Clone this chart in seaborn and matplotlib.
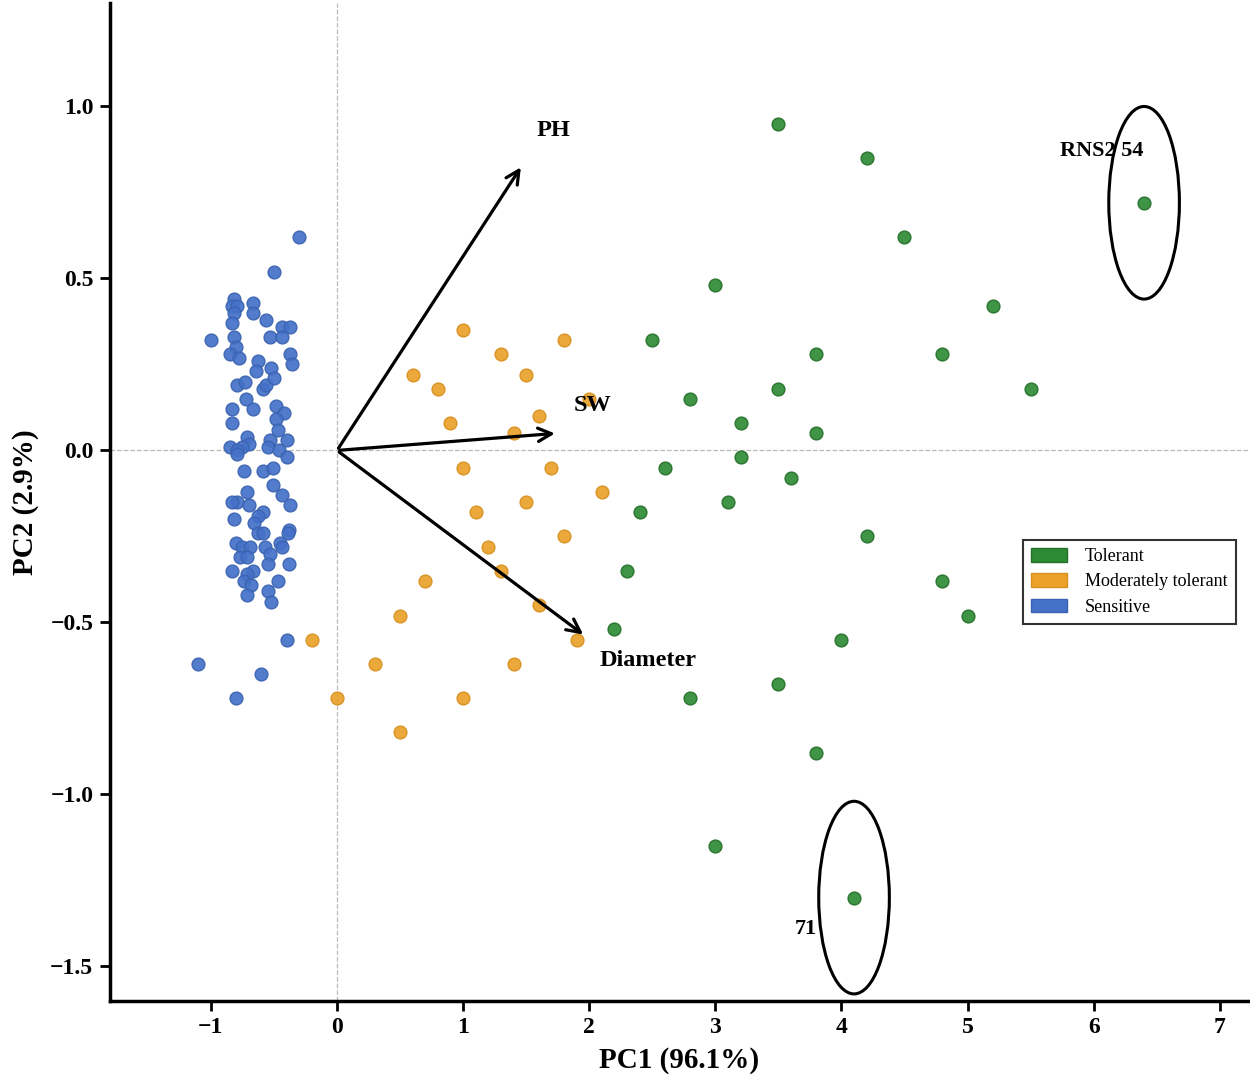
import numpy as np
import pandas as pd
import matplotlib
matplotlib.use("Agg")
import matplotlib.pyplot as plt
from matplotlib.patches import Ellipse, Patch
import seaborn as sns

# ---- data ----
tol_x = [3.5, 4.2, 4.5, 3.0, 5.2, 6.4, 2.5, 3.8, 4.8, 5.5, 3.5, 2.8, 3.2, 3.8, 3.2,
         2.6, 3.6, 3.1, 2.4, 4.2, 2.3, 4.8, 5.0, 2.2, 4.0, 3.5, 2.8, 3.8, 3.0, 4.1]
tol_y = [0.95, 0.85, 0.62, 0.48, 0.42, 0.72, 0.32, 0.28, 0.28, 0.18, 0.18, 0.15, 0.08, 0.05, -0.02,
         -0.05, -0.08, -0.15, -0.18, -0.25, -0.35, -0.38, -0.48, -0.52, -0.55, -0.68, -0.72, -0.88, -1.15, -1.30]

mod_x = [1.0, 1.3, 1.8, 0.6, 0.8, 1.5, 2.0, 0.9, 1.6, 1.4, 1.0, 1.7, 2.1, 1.5, 1.1,
         1.8, 1.2, 1.3, 0.7, 1.6, 0.5, -0.2, 1.9, 0.3, 1.4, 0.0, 1.0, 0.5]
mod_y = [0.35, 0.28, 0.32, 0.22, 0.18, 0.22, 0.15, 0.08, 0.10, 0.05, -0.05, -0.05, -0.12, -0.15, -0.18,
         -0.25, -0.28, -0.35, -0.38, -0.45, -0.48, -0.55, -0.55, -0.62, -0.62, -0.72, -0.72, -0.82]

sen_x = [-0.30, -0.50, -1.00, -1.10, -0.60, -0.80, -0.40,
         -0.82, -0.83, -0.79, -0.82, -0.67, -0.67, -0.83, -0.56, -0.44, -0.37, -0.53, -0.44, -0.82, -0.80,
         -0.85, -0.78, -0.37, -0.36, -0.63, -0.64, -0.52,
         -0.79, -0.73, -0.59, -0.56, -0.50, -0.83, -0.72, -0.67, -0.48, -0.42, -0.83, -0.48, -0.47, -0.40,
         -0.53, -0.71, -0.70, -0.75, -0.85, -0.79, -0.55, -0.46,
         -0.79, -0.40, -0.74, -0.59, -0.51, -0.51, -0.44, -0.37, -0.71, -0.79, -0.83, -0.70, -0.59, -0.63,
         -0.66, -0.82, -0.38, -0.63, -0.59,
         -0.39, -0.45, -0.44, -0.57, -0.53, -0.80, -0.75, -0.69, -0.77, -0.71, -0.55, -0.38, -0.83, -0.67,
         -0.71, -0.74, -0.68, -0.71, -0.47, -0.55, -0.52]
sen_y = [0.62, 0.52, 0.32, -0.62, -0.65, -0.72, -0.55,
         0.44, 0.42, 0.42, 0.40, 0.43, 0.40, 0.37, 0.38, 0.36, 0.36, 0.33, 0.33, 0.33, 0.30,
         0.28, 0.27, 0.28, 0.25, 0.26, 0.23, 0.24,
         0.19, 0.20, 0.18, 0.19, 0.21, 0.12, 0.15, 0.12, 0.13, 0.11, 0.08, 0.09, 0.06, 0.03,
         0.03, 0.04, 0.02, 0.01, 0.01, 0.00, 0.01, 0.00,
         -0.01, -0.02, -0.06, -0.06, -0.05, -0.10, -0.13, -0.16, -0.12, -0.15, -0.15, -0.16, -0.18, -0.19,
         -0.21, -0.20, -0.23, -0.24, -0.24,
         -0.24, -0.27, -0.28, -0.28, -0.30, -0.27, -0.28, -0.28, -0.31, -0.31, -0.33, -0.33, -0.35, -0.35,
         -0.36, -0.38, -0.39, -0.42, -0.38, -0.41, -0.44]

groups = ["Tolerant", "Moderately tolerant", "Sensitive"]
colors = ["#2e8b35", "#eaa22a", "#4472c8"]

vectors = ["PH", "SW", "Diameter"]
vec_x = [1.47, 1.75, 1.97]
vec_y = [0.83, 0.05, -0.54]
vec_lab_x = [1.72, 2.03, 2.47]
vec_lab_y = [0.93, 0.13, -0.61]

highlight_names = ["RNS2 54", "71"]
highlight_x = [6.4, 4.1]
highlight_y = [0.72, -1.30]
highlight_lab_x = [6.06, 3.72]
highlight_lab_y = [0.87, -1.39]

df = pd.DataFrame({
    "PC1": tol_x + mod_x + sen_x,
    "PC2": tol_y + mod_y + sen_y,
    "Group": ["Tolerant"] * len(tol_x) + ["Moderately tolerant"] * len(mod_x) + ["Sensitive"] * len(sen_x),
})

sns.set_style("white")
plt.rcParams["font.family"] = ["Liberation Serif", "DejaVu Serif"]
plt.rcParams["text.color"] = "black"
plt.rcParams["axes.labelcolor"] = "black"
plt.rcParams["xtick.color"] = "black"
plt.rcParams["ytick.color"] = "black"

fig = plt.figure(figsize=(12.5, 10.89), dpi=100)
ax = fig.add_axes([0.088, 0.081, 0.910, 0.916])

ax.axhline(0, color="#bbbbbb", lw=0.9, ls="--", zorder=0)
ax.axvline(0, color="#bbbbbb", lw=0.9, ls="--", zorder=0)

edge = {"Tolerant": "#23702a", "Moderately tolerant": "#d89020", "Sensitive": "#3a62b0"}
for g, c in zip(groups, colors):
    sub = df[df["Group"] == g]
    sns.scatterplot(data=sub, x="PC1", y="PC2", color=c, s=85, alpha=0.92,
                    edgecolor=edge[g], linewidth=1.0, ax=ax, legend=False, zorder=3)

for name, vx, vy, lx, ly in zip(vectors, vec_x, vec_y, vec_lab_x, vec_lab_y):
    ax.annotate("", xy=(vx, vy), xytext=(0, 0),
                arrowprops=dict(arrowstyle="->", color="black", lw=2.3, mutation_scale=24),
                zorder=5)
    ax.text(lx, ly, name, fontsize=17.5, fontweight="bold", ha="center", va="center", zorder=6)

for name, hx, hy, lx, ly in zip(highlight_names, highlight_x, highlight_y, highlight_lab_x, highlight_lab_y):
    ax.add_patch(Ellipse((hx, hy), width=0.56, height=0.56, fill=False, edgecolor="black", lw=2.2, zorder=4))
    ax.text(lx, ly, name, fontsize=16, fontweight="bold", ha="center", va="center", zorder=6)

ax.set_xlim(-1.8, 7.22)
ax.set_ylim(-1.6, 1.30)
ax.set_xticks([-1, 0, 1, 2, 3, 4, 5, 6, 7])
ax.set_yticks([-1.5, -1.0, -0.5, 0.0, 0.5, 1.0])
ax.set_yticklabels(["\u22121.5", "\u22121.0", "\u22120.5", "0.0", "0.5", "1.0"])
ax.set_xticklabels(["\u22121", "0", "1", "2", "3", "4", "5", "6", "7"])
for lab in ax.get_xticklabels() + ax.get_yticklabels():
    lab.set_fontweight("bold")
    lab.set_fontsize(17)

ax.set_xlabel("PC1 (96.1%)", fontsize=21, fontweight="bold", labelpad=6)
ax.set_ylabel("PC2 (2.9%)", fontsize=21, fontweight="bold", labelpad=8)

for s in ["top", "right"]:
    ax.spines[s].set_visible(False)
for s in ["left", "bottom"]:
    ax.spines[s].set_linewidth(2.5)
    ax.spines[s].set_color("black")
ax.tick_params(axis="both", which="major", direction="out", length=7, width=2, color="black",
               left=True, bottom=True, pad=5)

handles = [Patch(facecolor=c, edgecolor=edge[g], label=g) for g, c in zip(groups, colors)]
leg = ax.legend(handles=handles, loc="center right", bbox_to_anchor=(0.9975, 0.42),
                fontsize=13, frameon=True, fancybox=False, edgecolor="black",
                handlelength=2.0, handleheight=0.8, borderpad=0.45, labelspacing=0.45,
                handletextpad=1.0)
leg.get_frame().set_linewidth(1.5)

fig.savefig("out.png", dpi=100)
